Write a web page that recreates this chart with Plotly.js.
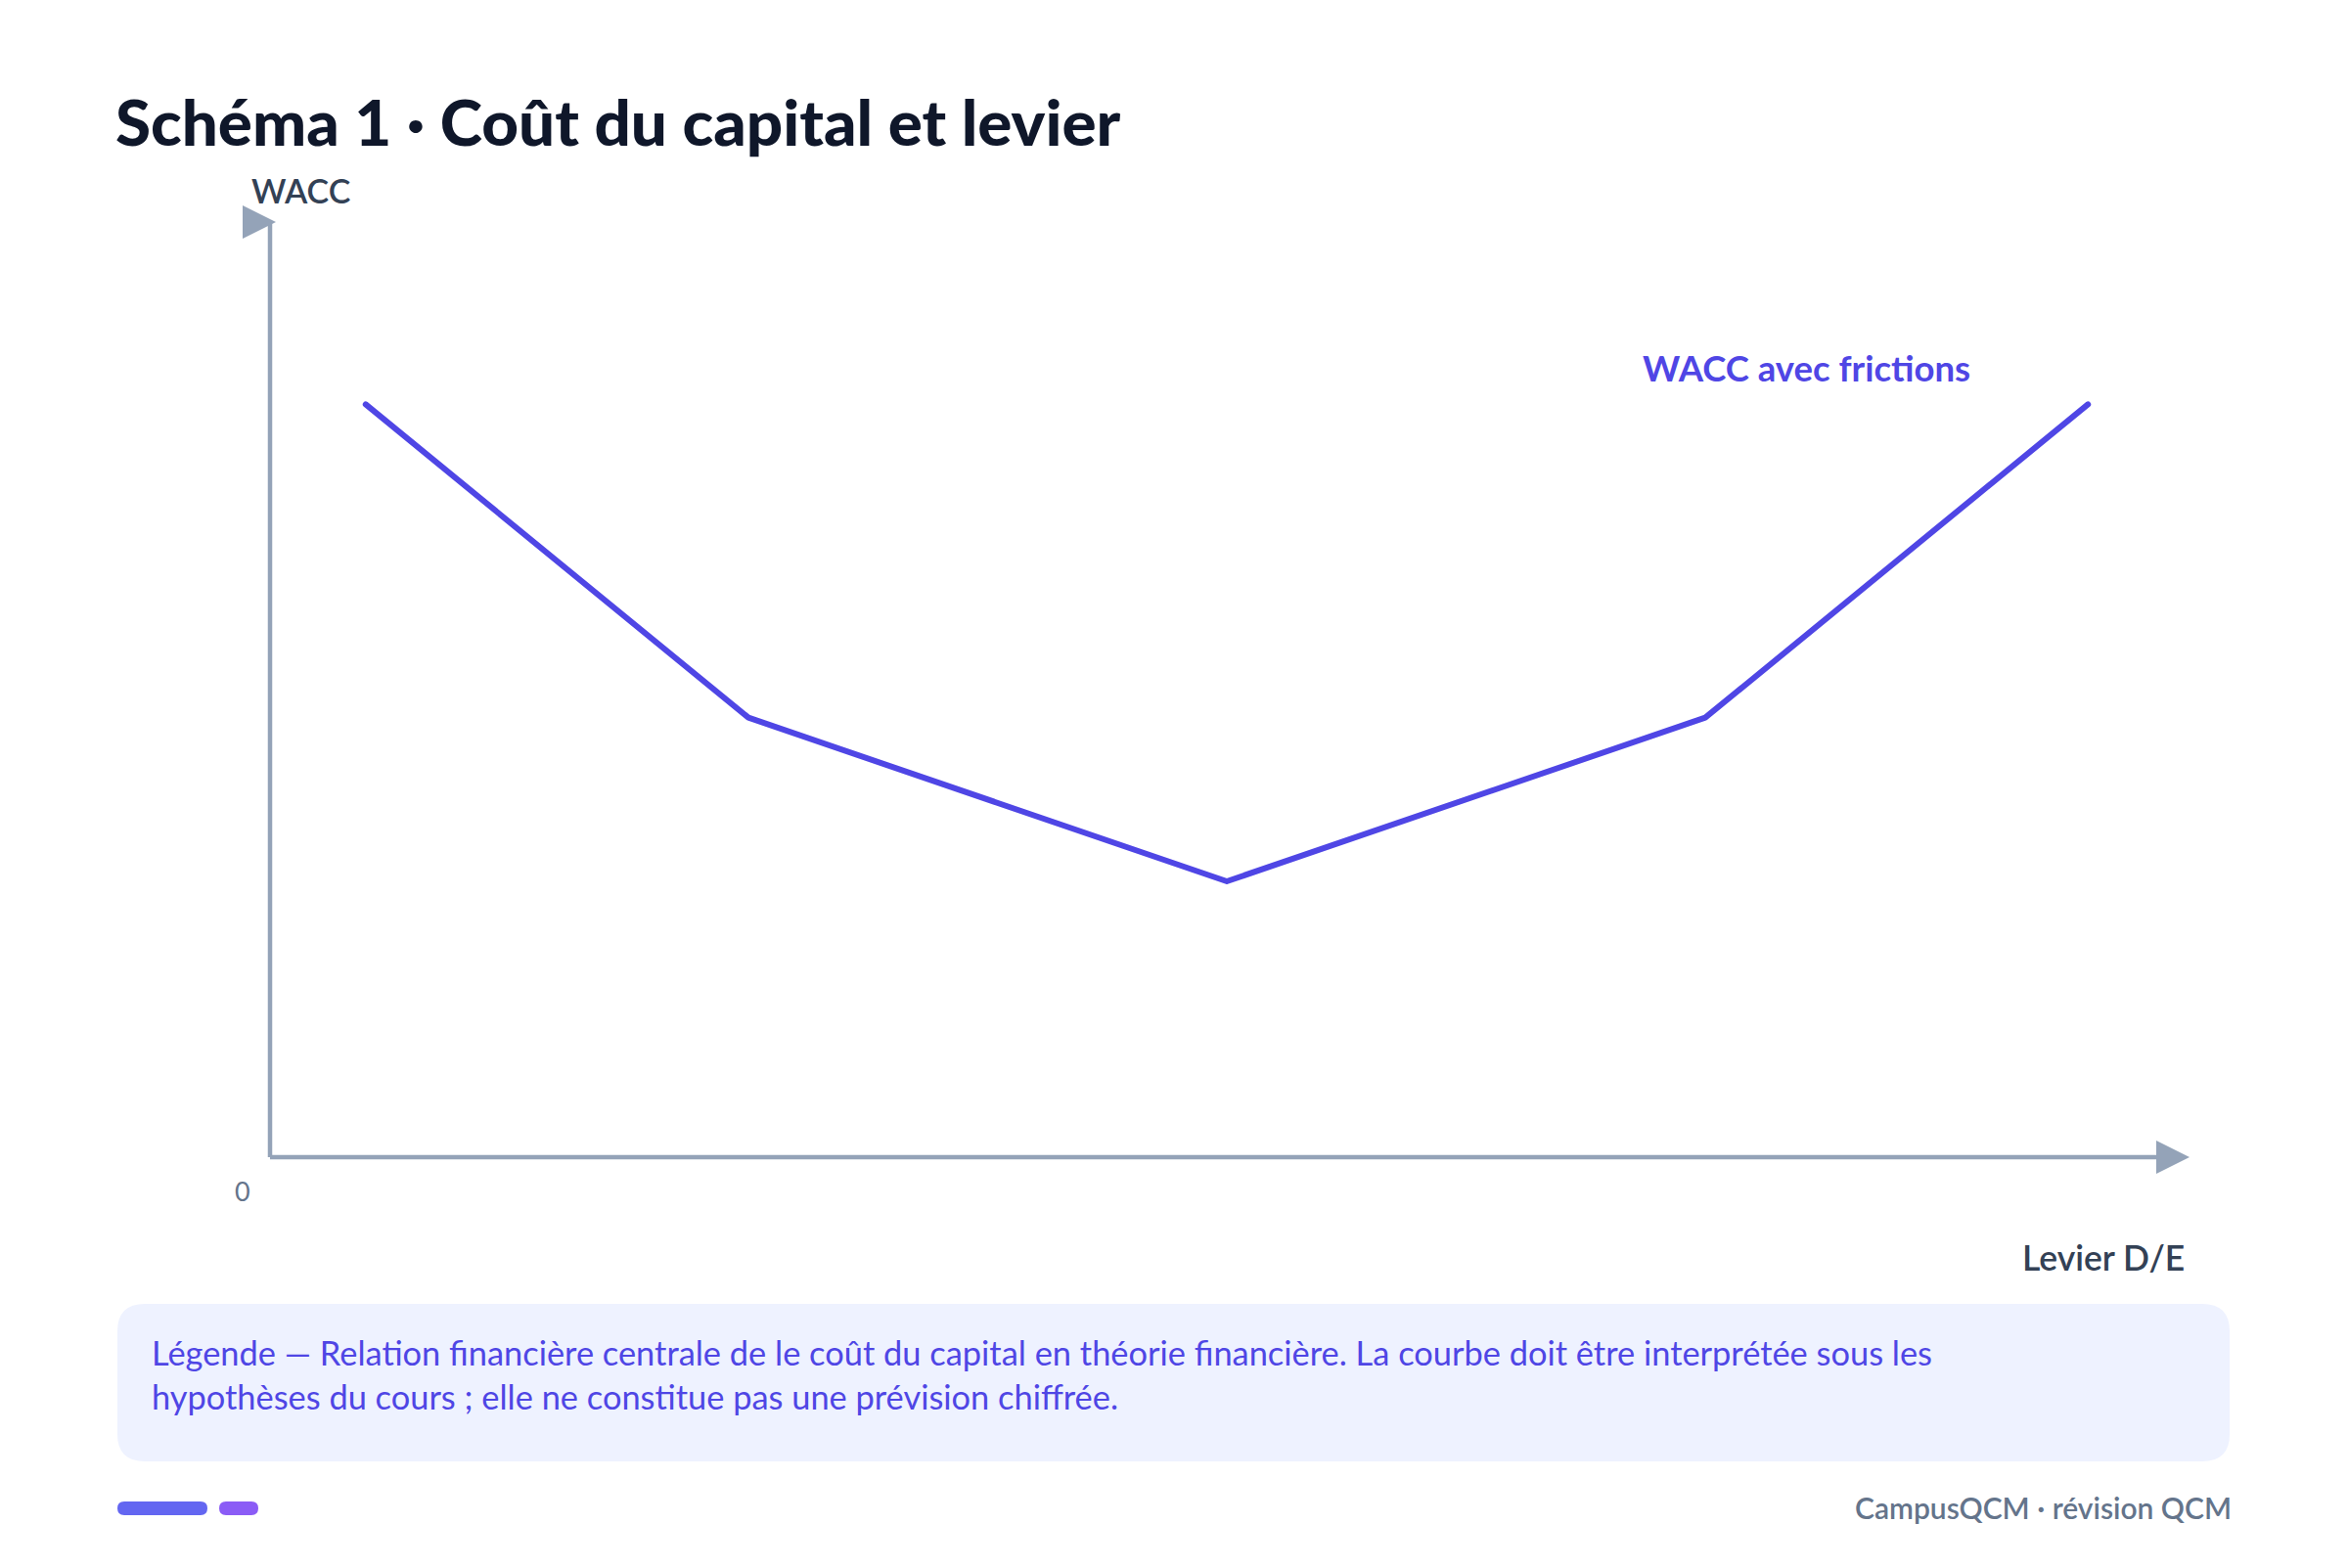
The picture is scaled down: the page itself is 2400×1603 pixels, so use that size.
<!DOCTYPE html>
<html>
<head>
<meta charset="utf-8">
<script src="https://cdn.plot.ly/plotly-3.0.1.min.js"></script>
<style>
html,body{margin:0;padding:0;background:#ffffff;}
#chart{width:2400px;height:1603px;}
#chart .js-line{stroke-linecap:round;stroke-linejoin:round;}
</style>
</head>
<body>
<div id="chart"></div>
<script>
// ---- data ----
const leverage = [0.5, 2.5, 5, 7.5, 9.5];
const wacc = [8.05, 4.7, 2.95, 4.7, 8.05];
const seriesName = "WACC avec frictions";
const titleText = "Schéma 1 · Coût du capital et levier";
const xLabel = "Levier D/E";
const yLabel = "WACC";
const originLabel = "0";
const captionLines = [
  "Légende — Relation financière centrale de le coût du capital en théorie financière. La courbe doit être interprétée sous les",
  "hypothèses du cours ; elle ne constitue pas une prévision chiffrée."
];
const footerText = "CampusQCM · révision QCM";

// ---- layout geometry ----
const W = 2400, H = 1603;
const M = {l: 276, r: 168, t: 227, b: 420};
const PW = W - M.l - M.r, PH = H - M.t - M.b;
const px = x => (x - M.l) / PW;          // page px -> paper x
const py = y => (H - M.b - y) / PH;      // page px -> paper y
const AX = '#94a3b8';
const FONT = 'Lato, "Noto Sans", sans-serif';

function roundRect(x0, y0, x1, y1, r, fill) {
  const X0 = x0 - M.l, X1 = x1 - M.l;
  const YT = (H - M.b) - y0, YB = (H - M.b) - y1;
  const p = `M${X0 + r},${YT} L${X1 - r},${YT} Q${X1},${YT} ${X1},${YT - r} L${X1},${YB + r} Q${X1},${YB} ${X1 - r},${YB} L${X0 + r},${YB} Q${X0},${YB} ${X0},${YB + r} L${X0},${YT - r} Q${X0},${YT} ${X0 + r},${YT} Z`;
  return {type: 'path', xref: 'paper', yref: 'paper', xsizemode: 'pixel', ysizemode: 'pixel',
          xanchor: 0, yanchor: 0, path: p, fillcolor: fill, line: {width: 0}, layer: 'below'};
}

const arrowPath = 'M-28,-17 L6,0 L-28,17 Z';

const traces = [{
  type: 'scatter', mode: 'lines', x: leverage, y: wacc, name: seriesName,
  line: {color: '#4f46e5', width: 6}, hoverinfo: 'skip', showlegend: false, cliponaxis: false
}];

const shapes = [
  {type: 'line', xref: 'paper', yref: 'paper', x0: 0, y0: 0, x1: 1, y1: 0, line: {color: AX, width: 4.5}},
  {type: 'line', xref: 'paper', yref: 'paper', x0: 0, y0: 0, x1: 0, y1: 1, line: {color: AX, width: 4.5}},
  {type: 'path', xref: 'paper', yref: 'paper', xsizemode: 'pixel', ysizemode: 'pixel', xanchor: 1, yanchor: 0,
   path: arrowPath, fillcolor: AX, line: {width: 0}},
  {type: 'path', xref: 'paper', yref: 'paper', xsizemode: 'pixel', ysizemode: 'pixel', xanchor: 0, yanchor: 1,
   path: arrowPath, fillcolor: AX, line: {width: 0}},
  roundRect(120, 1333, 2279, 1494, 28, '#eef2ff'),
  roundRect(120, 1535, 212, 1549, 7, '#6366f1'),
  roundRect(224, 1535, 264, 1549, 7, '#8b5cf6')
];

const annotations = [
  {text: yLabel, xref: 'paper', yref: 'paper', x: px(255), y: py(195), xanchor: 'left', yanchor: 'middle',
   showarrow: false, font: {family: FONT, size: 34, color: '#334155', weight: 600}},
  {text: originLabel, xref: 'paper', yref: 'paper', x: px(248), y: py(1217), xanchor: 'center', yanchor: 'middle',
   showarrow: false, font: {family: FONT, size: 27, color: '#64748b'}},
  {text: xLabel, xref: 'paper', yref: 'paper', x: px(2235), y: py(1285), xanchor: 'right', yanchor: 'middle',
   showarrow: false, font: {family: FONT, size: 35.5, color: '#334155', weight: 600}},
  {text: seriesName, xref: 'paper', yref: 'paper', x: px(1677), y: py(376), xanchor: 'left', yanchor: 'middle',
   showarrow: false, font: {family: FONT, size: 36.5, color: '#4f46e5', weight: 700}},
  {text: captionLines[0], xref: 'paper', yref: 'paper', x: px(153), y: py(1382), xanchor: 'left', yanchor: 'middle',
   showarrow: false, font: {family: FONT, size: 34.4, color: '#4f46e5'}},
  {text: captionLines[1], xref: 'paper', yref: 'paper', x: px(153), y: py(1427), xanchor: 'left', yanchor: 'middle',
   showarrow: false, font: {family: FONT, size: 34.4, color: '#4f46e5'}},
  {text: footerText, xref: 'paper', yref: 'paper', x: px(2283), y: py(1541), xanchor: 'right', yanchor: 'middle',
   showarrow: false, font: {family: FONT, size: 30, color: '#64748b', weight: 600}}
];

const layout = {
  width: W, height: H,
  margin: M,
  paper_bgcolor: '#ffffff', plot_bgcolor: '#ffffff',
  title: {text: titleText, xref: 'container', yref: 'container', x: 118 / W, xanchor: 'left',
          y: 1 - 126 / H, yanchor: 'middle',
          font: {family: FONT, size: 65.5, color: '#0f172a', weight: 900}},
  xaxis: {range: [0, 10], visible: false, fixedrange: true},
  yaxis: {range: [0, 10], visible: false, fixedrange: true},
  shapes: shapes,
  annotations: annotations,
  showlegend: false
};

Plotly.newPlot('chart', traces, layout, {displayModeBar: false, staticPlot: true});
</script>
</body>
</html>
